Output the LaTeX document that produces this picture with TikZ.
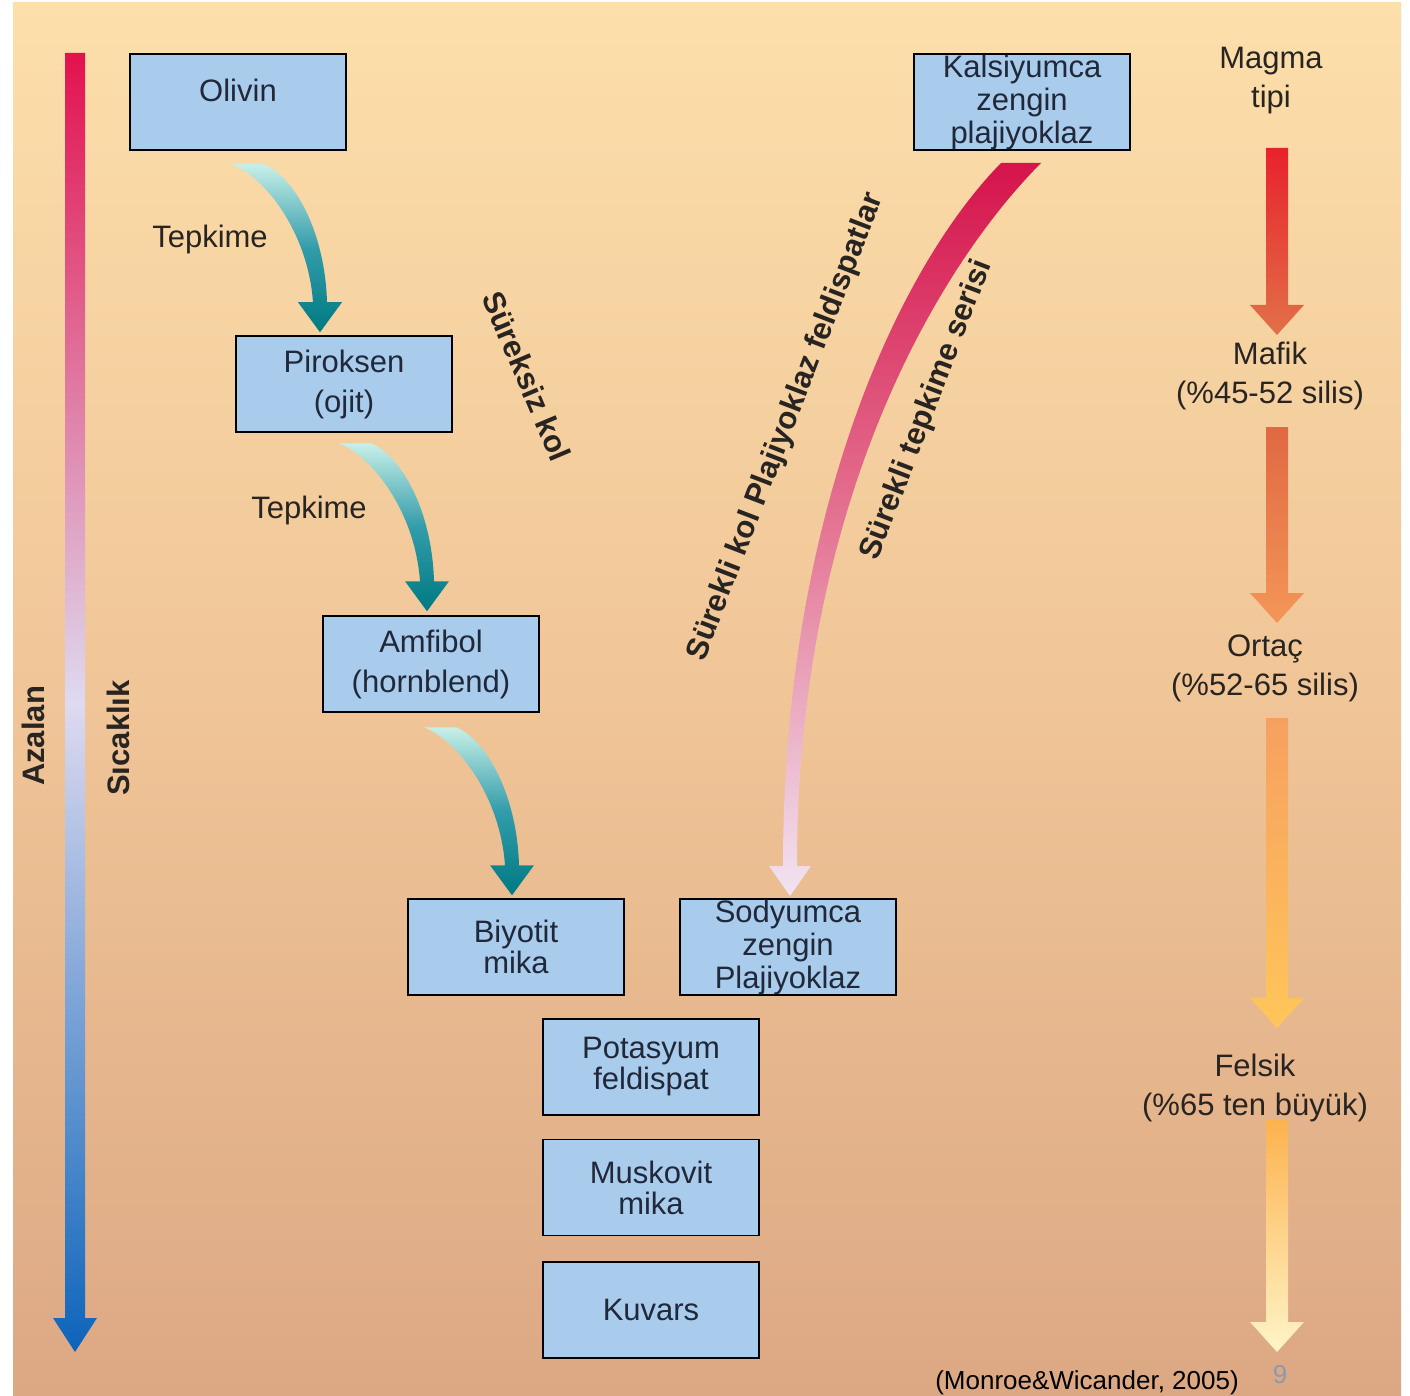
\documentclass[tikz,border=0pt]{standalone}
\usepackage{fontspec}
\setmainfont{Liberation Sans}
\usetikzlibrary{positioning, calc}

\definecolor{zeminust}{RGB}{252,223,171}
\definecolor{zeminorta}{RGB}{240,197,151}
\definecolor{zeminalt}{RGB}{220,168,132}
\definecolor{kutumavi}{RGB}{170,204,236}
\definecolor{kutuyazi}{RGB}{32,40,58}
\definecolor{yazikoyu}{RGB}{40,36,34}
\definecolor{sayfano}{RGB}{138,154,176}
\definecolor{sicakkirmizi}{RGB}{226,18,78}
\definecolor{sicaklila}{RGB}{222,218,240}
\definecolor{sicakmavi}{RGB}{12,100,186}
\definecolor{tepkimeacik}{RGB}{200,240,232}
\definecolor{tepkimeorta}{RGB}{50,156,170}
\definecolor{tepkimekoyu}{RGB}{0,122,130}
\definecolor{surekliust}{RGB}{214,20,76}
\definecolor{sureklorta}{RGB}{228,118,148}
\definecolor{sureklialt}{RGB}{242,228,242}
\definecolor{mafikust}{RGB}{232,34,44}
\definecolor{mafikalt}{RGB}{226,112,72}
\definecolor{ortacust}{RGB}{224,104,66}
\definecolor{ortacalt}{RGB}{244,150,88}
\definecolor{felsikust}{RGB}{246,160,96}
\definecolor{felsikalt}{RGB}{255,198,90}
\definecolor{sonust}{RGB}{252,178,78}
\definecolor{sonalt}{RGB}{255,244,200}

\newcommand{\genisyazi}{\fontsize{31}{40}\selectfont}
\newcommand{\siksatir}{\fontsize{31}{33}\selectfont}
\newcommand{\magmaok}[4]{%
  \shade[top color=#3, bottom color=#4] let \p1=(#1), \p2=(#2) in
    (\x1-11pt,\y1) -- (\x1-11pt,\y2+30pt) -- (\x1-27pt,\y2+30pt) -- (\p2)
    -- (\x1+27pt,\y2+30pt) -- (\x1+11pt,\y2+30pt) -- (\x1+11pt,\y1) -- cycle;}

\tikzset{
  kutu/.style={draw=black, line width=1.5pt, fill=kutumavi, text=kutuyazi,
    minimum width=216pt, minimum height=96pt, inner sep=0pt, align=center,
    font=\fontsize{31}{31}\selectfont},
  yan/.style={text=yazikoyu, align=center, inner sep=0pt, font=\fontsize{31}{39}\selectfont},
  egikyazi/.style={text=yazikoyu, inner sep=0pt, font=\bfseries\fontsize{31}{31}\selectfont},
  tepkimeok/.pic={
    \shade[top color=tepkimeacik, bottom color=tepkimekoyu, middle color=tepkimeorta]
      (-88,-168) .. controls (-55,-155) and (-12,-100) .. (-7,-30)
      -- (-22,-30) -- (0,0) -- (22,-30) -- (7,-30)
      .. controls (5,-100) and (-25,-155) .. (-56,-168) -- cycle;
  }
}

\begin{document}
\begin{tikzpicture}[x=1pt, y=-1pt]
  \useasboundingbox (0,0) rectangle (1410,1396);
  \shade[top color=zeminust, bottom color=zeminalt, middle color=zeminorta] (13,3) rectangle (1401,1396);

  \coordinate (sicakust) at (75,53);
  \coordinate (sicakuc) at (75,1352);
  \shade[top color=sicakkirmizi, bottom color=sicakmavi, middle color=sicaklila]
    let \p1=(sicakust), \p2=(sicakuc) in
    (\x1-10pt,\y1) -- (\x1-10pt,\y2+34pt) -- (\x1-22pt,\y2+34pt) -- (\p2)
    -- (\x1+22pt,\y2+34pt) -- (\x1+10pt,\y2+34pt) -- (\x1+10pt,\y1) -- cycle;
  \node[egikyazi, rotate=90] (azalan) at (33,736) {Azalan};
  \node[egikyazi, rotate=90] (sicaklik) at (118,738) {Sıcaklık};

  \node[kutu, text depth=24pt] (olivin) at (238,102) {Olivin};
  \node[kutu, font=\genisyazi] (piroksen) at (344,384) {Piroksen\\(ojit)};
  \node[kutu, font=\genisyazi] (amfibol) at (431,664) {Amfibol\\(hornblend)};
  \node[kutu] (biyotit) at (516,947) {Biyotit\\mika};
  \node[kutu, font=\siksatir] (sodyum) at (788,947) {Sodyumca\\zengin\\Plajiyoklaz};
  \node[kutu] (potasyum) at (651,1067) {Potasyum\\feldispat};
  \node[kutu, below=23pt of potasyum] (muskovit) {Muskovit\\mika};
  \node[kutu, below=25pt of muskovit] (kuvars) {Kuvars};
  \node[kutu, font=\siksatir] (kalsiyum) at (1022,102) {Kalsiyumca\\zengin\\plajiyoklaz};

  \pic at ([xshift=-24pt, yshift=3pt]piroksen.north) {tepkimeok};
  \pic at ([xshift=-4pt, yshift=4pt]amfibol.north) {tepkimeok};
  \pic at ([xshift=-4pt, yshift=3pt]biyotit.north) {tepkimeok};
  \node[yan] (tepkime1) at (210,239) {Tepkime};
  \node[yan] (tepkime2) at (309,510) {Tepkime};

  \shade[top color=surekliust, bottom color=sureklialt, middle color=sureklorta]
    (1001,163) .. controls (898,268) and (783,515) .. (783,866)
    -- (769,866) -- (790,896) -- (811,866) -- (797,866)
    .. controls (797,510) and (933,272) .. (1041,163) -- cycle;

  \node[egikyazi, rotate=-67] (sureksiz) at (527,376) {Süreksiz kol};
  \node[egikyazi, rotate=69] (surekli) at (786,427) {Sürekli kol Plajiyoklaz feldispatlar};
  \node[egikyazi, rotate=69] (seri) at (927,410) {Sürekli tepkime serisi};

  \node[yan] (magma) at (1271,81) {Magma\\tipi};
  \node[yan] (mafik) at (1270,376) {Mafik\\(\%45-52 silis)};
  \node[yan] (ortac) at (1265,668) {Ortaç\\(\%52-65 silis)};
  \node[yan] (felsik) at (1255,1088) {Felsik\\(\%65 ten büyük)};

  \coordinate (ok1a) at (1277,148);
  \coordinate (ok1b) at (1277,335);
  \coordinate (ok2a) at (1277,427);
  \coordinate (ok2b) at (1277,623);
  \coordinate (ok3a) at (1277,718);
  \coordinate (ok3b) at (1277,1028);
  \coordinate (ok4a) at (1277,1120);
  \coordinate (ok4b) at (1277,1352);
  \magmaok{ok1a}{ok1b}{mafikust}{mafikalt}
  \magmaok{ok2a}{ok2b}{ortacust}{ortacalt}
  \magmaok{ok3a}{ok3b}{felsikust}{felsikalt}
  \magmaok{ok4a}{ok4b}{sonust}{sonalt}

  \node[text=black, inner sep=0pt, font=\fontsize{26}{26}\selectfont] (kaynak) at (1087,1383) {(Monroe\&Wicander, 2005)};
  \node[text=sayfano, inner sep=0pt, font=\fontsize{26}{26}\selectfont] (sayfa) at (1280,1375) {9};
\end{tikzpicture}
\end{document}
